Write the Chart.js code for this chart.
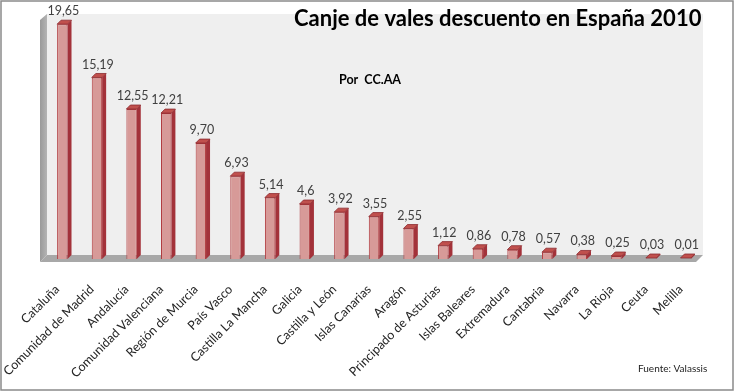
<!DOCTYPE html>
<html>
<head>
<meta charset="utf-8">
<script src="https://cdn.jsdelivr.net/npm/chart.js@4/dist/chart.umd.min.js"></script>
<style>
  html, body { margin: 0; padding: 0; background: #fff; }
  #wrap { width: 734px; height: 392px; position: relative; }
</style>
</head>
<body>
<div id="wrap"><canvas id="c" width="734" height="392"></canvas></div>
<script>
// data
var regions = ["Cataluña", "Comunidad de Madrid", "Andalucía", "Comunidad Valenciana", "Región de Murcia",
    "País Vasco", "Castilla La Mancha", "Galicia", "Castilla y León", "Islas Canarias", "Aragón",
    "Principado de Asturias", "Islas Baleares", "Extremadura", "Cantabria", "Navarra", "La Rioja", "Ceuta", "Melilla"];
var canjes = [19.65, 15.19, 12.55, 12.21, 9.70, 6.93, 5.14, 4.6, 3.92, 3.55, 2.55, 1.12, 0.86, 0.78, 0.57, 0.38, 0.25, 0.03, 0.01];
var valueLabels = ["19,65", "15,19", "12,55", "12,21", "9,70", "6,93", "5,14", "4,6", "3,92", "3,55", "2,55",
    "1,12", "0,86", "0,78", "0,57", "0,38", "0,25", "0,03", "0,01"];
var chartTitle = "Canje de vales descuento en España 2010";
var subTitle = "Por  CC.AA";
var source = "Fuente: Valassis";

var FONT = "Lato, 'Open Sans', sans-serif";

// walls, floor and 3d sides of the bars
var fake3d = {
    id: 'fake3d',
    beforeDatasetsDraw: function (chart) {
        var ctx = chart.ctx, ca = chart.chartArea;
        ctx.save();
        // back wall
        ctx.fillStyle = '#efefef';
        ctx.fillRect(ca.left + 2, ca.top - 6, ca.right - ca.left - 2, ca.bottom - 4 - (ca.top - 6));
        // left wall
        var g = ctx.createLinearGradient(ca.left - 5, 0, ca.left + 2, 0);
        g.addColorStop(0, '#9a9a9a');
        g.addColorStop(1, '#b4b4b4');
        ctx.fillStyle = g;
        ctx.beginPath();
        ctx.moveTo(ca.left - 5, ca.top);
        ctx.lineTo(ca.left + 2, ca.top - 6);
        ctx.lineTo(ca.left + 2, ca.bottom - 4);
        ctx.lineTo(ca.left - 5, ca.bottom + 3);
        ctx.closePath();
        ctx.fill();
        // floor
        ctx.fillStyle = '#a8a8a8';
        ctx.beginPath();
        ctx.moveTo(ca.left + 2, ca.bottom - 4);
        ctx.lineTo(ca.right, ca.bottom - 4);
        ctx.lineTo(ca.right - 7, ca.bottom + 3);
        ctx.lineTo(ca.left - 5, ca.bottom + 3);
        ctx.closePath();
        ctx.fill();
        ctx.restore();
    },
    afterDatasetsDraw: function (chart) {
        var ctx = chart.ctx;
        var meta = chart.getDatasetMeta(0);
        var d = 4;
        ctx.save();
        meta.data.forEach(function (bar, i) {
            var x0 = bar.x - bar.width / 2, x1 = bar.x + bar.width / 2;
            var top = Math.min(bar.y, bar.base - 1), base = bar.base;
            // side face
            ctx.fillStyle = '#a3323a';
            ctx.beginPath();
            ctx.moveTo(x1, top);
            ctx.lineTo(x1 + d, top - d);
            ctx.lineTo(x1 + d, base - d);
            ctx.lineTo(x1, base);
            ctx.closePath();
            ctx.fill();
            // top face
            ctx.fillStyle = '#c0504d';
            ctx.strokeStyle = '#8c2a2e';
            ctx.lineWidth = 0.8;
            ctx.beginPath();
            ctx.moveTo(x0, top);
            ctx.lineTo(x0 + d, top - d);
            ctx.lineTo(x1 + d, top - d);
            ctx.lineTo(x1, top);
            ctx.closePath();
            ctx.fill();
            ctx.stroke();
            // value label
            ctx.fillStyle = '#404040';
            ctx.font = '12.5px ' + FONT;
            ctx.textAlign = 'center';
            ctx.textBaseline = 'middle';
            ctx.fillText(valueLabels[i], bar.x + 1, top - 13);
        });
        ctx.restore();
    },
    afterDraw: function (chart) {
        var ctx = chart.ctx;
        ctx.save();
        ctx.fillStyle = '#000';
        ctx.font = 'bold 22px ' + FONT;
        ctx.textAlign = 'left';
        ctx.textBaseline = 'alphabetic';
        ctx.fillText(chartTitle, 294, 26);
        ctx.font = 'bold 12.5px ' + FONT;
        ctx.fillText(subTitle, 339, 84);
        ctx.font = '10px ' + FONT;
        ctx.fillStyle = '#222';
        ctx.fillText(source, 638, 372);
        // outer frame
        ctx.strokeStyle = '#8a8a8a';
        ctx.lineWidth = 1.5;
        ctx.strokeRect(1, 1, 732, 389);
        ctx.restore();
    }
};

var chart = new Chart(document.getElementById('c'), {
    type: 'bar',
    data: {
        labels: regions,
        datasets: [{
            data: canjes,
            backgroundColor: '#d79a98',
            borderColor: '#b03a3e',
            borderWidth: 1,
            barPercentage: 0.3,
            categoryPercentage: 1
        }]
    },
    options: {
        responsive: false,
        animation: false,
        layout: { padding: { left: 45, right: 31, top: 20, bottom: 0 } },
        plugins: { legend: { display: false }, tooltip: { enabled: false } },
        scales: {
            y: { display: false, min: 0, max: 20 },
            x: {
                grid: { display: false },
                border: { display: false },
                afterFit: function (scale) { scale.height = 133; },
                ticks: {
                    autoSkip: false,
                    minRotation: 45,
                    maxRotation: 45,
                    padding: 15,
                    labelOffset: -5,
                    color: '#262626',
                    font: { family: FONT, size: 12.5 }
                }
            }
        }
    },
    plugins: [fake3d]
});
</script>
</body>
</html>
